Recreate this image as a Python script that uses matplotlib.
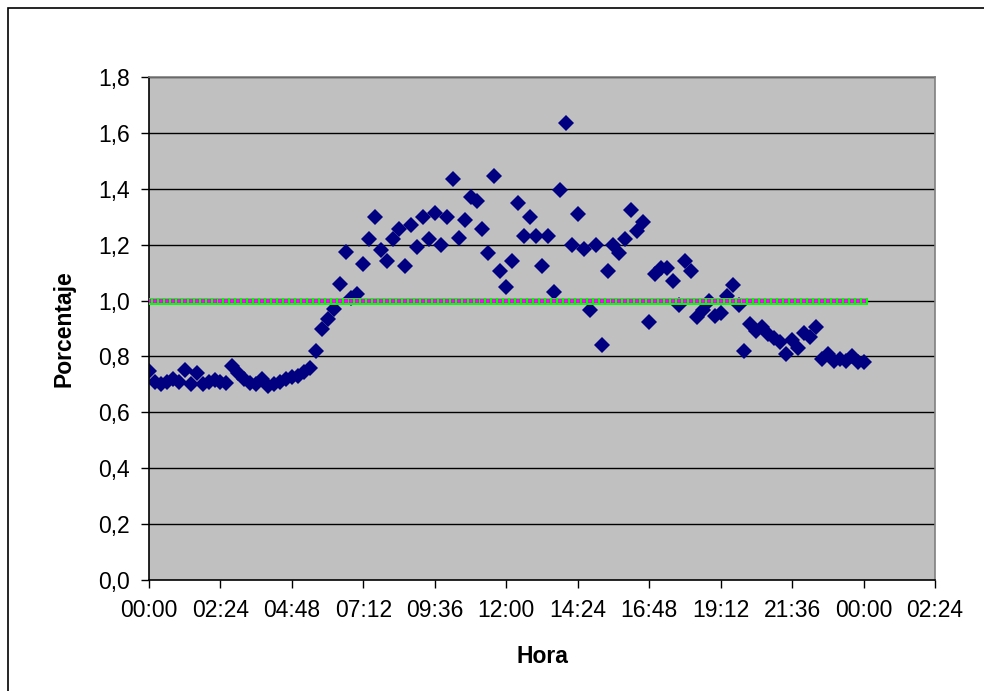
import numpy as np
import matplotlib
matplotlib.use('Agg')
import matplotlib.pyplot as plt
from matplotlib.patches import Rectangle

plt.rcParams['font.family'] = ['Liberation Sans', 'DejaVu Sans']

# readings every 12 minutes, 00:00 .. 24:00 (hours)
horas = np.arange(121) * 0.2
porcentaje = [
    0.748, 0.71, 0.70, 0.71, 0.72, 0.71, 0.75, 0.70, 0.74, 0.70,
    0.71, 0.715, 0.71, 0.705, 0.765, 0.74, 0.72, 0.705, 0.70, 0.72,
    0.695, 0.70, 0.71, 0.72, 0.725, 0.73, 0.745, 0.76,
    0.82, 0.90, 0.935, 0.97, 1.06, 1.175, 1.01, 1.025, 1.13, 1.22,
    1.30, 1.18, 1.14, 1.22, 1.255, 1.125, 1.27, 1.19, 1.30, 1.22,
    1.315, 1.20, 1.30, 1.435, 1.225, 1.29, 1.37, 1.355, 1.255, 1.17,
    1.445, 1.105, 1.05, 1.14, 1.35, 1.23, 1.30, 1.23, 1.125, 1.23,
    1.03, 1.395, 1.635, 1.20, 1.31, 1.185, 0.965, 1.20, 0.84, 1.105,
    1.20, 1.17, 1.22, 1.325, 1.25, 1.28, 0.925, 1.095, 1.115, 1.115,
    1.07, 0.985, 1.14, 1.105, 0.94, 0.965, 1.00, 0.945, 0.955, 1.015,
    1.055, 0.985, 0.82, 0.915, 0.89, 0.905, 0.88, 0.865, 0.85, 0.81,
    0.86, 0.83, 0.885, 0.87, 0.905, 0.79, 0.81, 0.785, 0.79, 0.785,
    0.80, 0.78, 0.78,
]
referencia = [1.0] * len(horas)

xticks = np.arange(0, 26.5, 2.4)
xlabels = ['00:00', '02:24', '04:48', '07:12', '09:36', '12:00', '14:24',
           '16:48', '19:12', '21:36', '00:00', '02:24']
yticks = np.arange(0, 1.81, 0.2)
ylabels = ['0,0', '0,2', '0,4', '0,6', '0,8', '1,0', '1,2', '1,4', '1,6', '1,8']

fig = plt.figure(figsize=(9.84, 6.91), dpi=100)
ax = fig.add_axes([149/984, 111/691, 786/984, 503/691])
ax.set_facecolor('#C0C0C0')

# outer frame of the chart (clipped at right/bottom like the original)
fig.patches.append(Rectangle((8/984, -0.05), 1.1, (683+35)/691, transform=fig.transFigure,
                             fill=False, edgecolor='black', linewidth=1.2))

for y in yticks[1:]:
    ax.axhline(y, color='black', linewidth=1.0, zorder=1)

ax.plot(horas, porcentaje, linestyle='none', marker='D', markersize=8,
        color='#000080', markeredgewidth=0, zorder=2)
ax.plot(horas, referencia, color='#00FF00', linewidth=5, zorder=3)
ax.plot(horas, referencia, linestyle='none', marker='s', markersize=2.3,
        color='#FF00FF', markeredgewidth=0, zorder=4)

ax.set_xlim(0, 26.4)
ax.set_ylim(0, 1.8)
ax.set_xticks(xticks)
ax.set_xticklabels(xlabels)
ax.set_yticks(yticks)
ax.set_yticklabels(ylabels)
ax.tick_params(direction='out', length=6, width=1, labelsize=16.5, pad=8)

ax.spines['left'].set_color('black')
ax.spines['bottom'].set_color('black')
ax.spines['top'].set_color('#808080')
ax.spines['right'].set_color('#808080')
for s in ax.spines.values():
    s.set_linewidth(1.2)

ax.set_xlabel('Hora', fontsize=16.5, fontweight='bold', labelpad=16)
ax.set_ylabel('Porcentaje', fontsize=16.5, fontweight='bold', labelpad=16)

fig.savefig('out.png', dpi=100)
